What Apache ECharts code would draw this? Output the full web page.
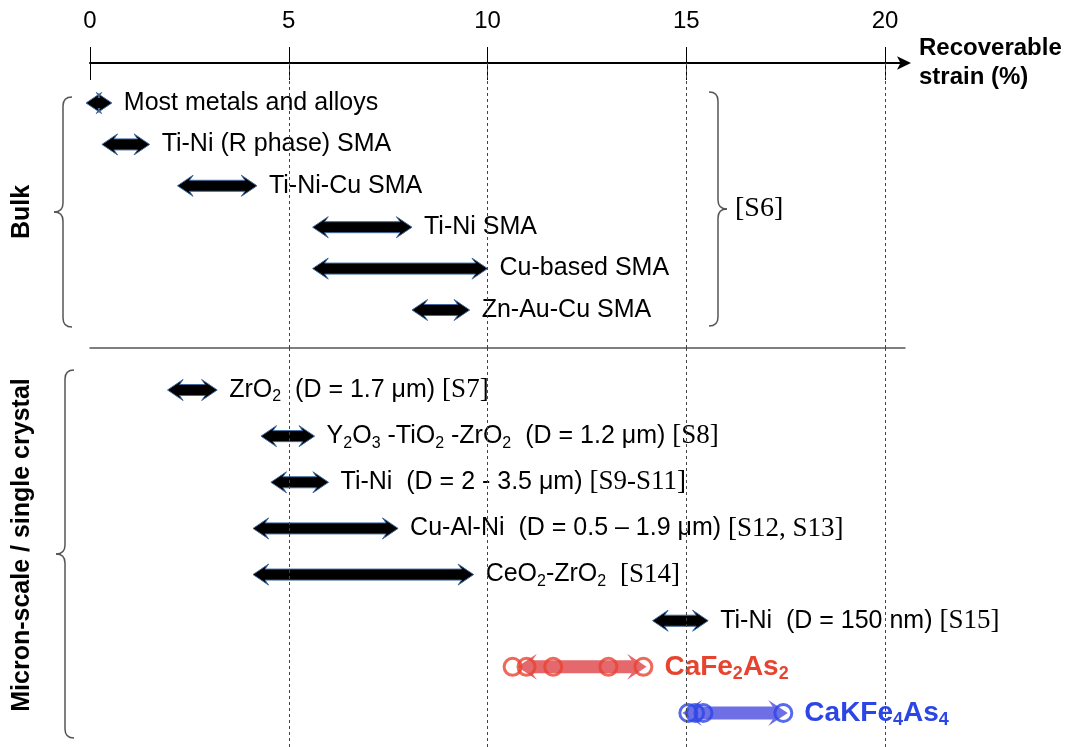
<!DOCTYPE html>
<html>
<head>
<meta charset="utf-8">
<title>Recoverable strain</title>
<script src="https://cdn.jsdelivr.net/npm/echarts@6/dist/echarts.min.js"></script>
<style>
  html, body { margin: 0; padding: 0; background: #ffffff; }
  #chart { width: 1081px; height: 747px; }
</style>
</head>
<body>
<div id="chart"></div>
<script>
// Strain axis ticks (%)
const tickValues = [0, 5, 10, 15, 20];

// Bulk materials: recoverable strain range (%)
const bulkLabels = [
  'Most metals and alloys',
  'Ti-Ni (R phase) SMA',
  'Ti-Ni-Cu SMA',
  'Ti-Ni SMA',
  'Cu-based SMA',
  'Zn-Au-Cu SMA'
];
const bulkMin = [-0.1, 0.3, 2.2, 5.6, 5.6, 8.1];
const bulkMax = [0.55, 1.5, 4.2, 8.1, 10.0, 9.55];

// Micron-scale / single crystal materials
const microLabels = [
  'ZrO{sub|2}  (D = 1.7 μm) {ref|[S7]}',
  'Y{sub|2}O{sub|3} -TiO{sub|2} -ZrO{sub|2}  (D = 1.2 μm) {ref|[S8]}',
  'Ti-Ni  (D = 2 - 3.5 μm) {ref|[S9-S11]}',
  'Cu-Al-Ni  (D = 0.5 – 1.9 μm) {ref|[S12, S13]}',
  'CeO{sub|2}-ZrO{sub|2}  {ref|[S14]}',
  'Ti-Ni  (D = 150 nm) {ref|[S15]}'
];
const microMin = [1.95, 4.3, 4.55, 4.1, 4.1, 14.15];
const microMax = [3.2, 5.65, 6.0, 7.75, 9.65, 15.55];

// Iron-arsenide crystals: range arrow and individual measurements
const caFe2As2Label = '{c|CaFe}{cs|2}{c|As}{cs|2}';
const caFe2As2Range = [10.75, 14.0];
const caFe2As2Points = [10.63, 10.98, 11.65, 13.04, 13.92];

const caKFe4As4Label = '{c|CaKFe}{cs|4}{c|As}{cs|4}';
const caKFe4As4Range = [14.9, 17.55];
const caKFe4As4Points = [15.05, 15.22, 15.43, 17.44];

const SANS = '"Liberation Sans", Arial, Helvetica, sans-serif';
const SERIF = '"Liberation Serif", "Times New Roman", Times, serif';

const RED = '#e8432f';
const BLUE = '#2c46e6';

// Double-headed arrow outline between two pixel x positions
function arrowPoints(x1, x2, y, t, h, L) {
  const s = L * 0.3;
  return [
    [x1, y], [x1 + L + s, y - h], [x1 + L, y - t], [x2 - L, y - t], [x2 - L - s, y - h],
    [x2, y], [x2 - L - s, y + h], [x2 - L, y + t], [x1 + L, y + t], [x1 + L + s, y + h]
  ];
}

const labelRich = {
  sub: { fontSize: 16, lineHeight: 12, verticalAlign: 'bottom', fontFamily: SANS, fill: '#000' },
  ref: { fontSize: 27, lineHeight: 30, fontFamily: SERIF, fill: '#000' }
};

function blackArrowRender(labels) {
  return function (params, api) {
    const a = api.coord([api.value(0), api.value(2)]);
    const b = api.coord([api.value(1), api.value(2)]);
    const y = a[1];
    return {
      type: 'group',
      children: [
        {
          type: 'polygon',
          shape: { points: arrowPoints(a[0], b[0], y, 5.5, 10.5, 12) },
          style: { fill: '#000', stroke: '#3f6aa0', lineWidth: 1 }
        },
        {
          type: 'text',
          style: {
            x: b[0] + 12, y: y,
            text: labels[params.dataIndex],
            fill: '#000',
            fontSize: 25, fontFamily: SANS,
            lineHeight: 30,
            align: 'left', verticalAlign: 'middle',
            rich: labelRich
          }
        }
      ]
    };
  };
}

function colorArrowRender(label, points, fillColor, textColor) {
  return function (params, api) {
    const a = api.coord([api.value(0), api.value(2)]);
    const b = api.coord([api.value(1), api.value(2)]);
    const last = api.coord([Math.max.apply(null, points), api.value(2)]);
    const y = a[1];
    return {
      type: 'group',
      children: [
        {
          type: 'polygon',
          shape: { points: arrowPoints(a[0], b[0], y, 6.5, 13, 15) },
          style: { fill: fillColor }
        },
        {
          type: 'text',
          style: {
            x: Math.max(b[0], last[0] + 10) + 11, y: y,
            text: label,
            fill: textColor,
            fontSize: 28, fontWeight: 'bold', fontFamily: SANS,
            lineHeight: 32,
            align: 'left', verticalAlign: 'middle',
            rich: {
              c: { fontSize: 28, fontWeight: 'bold', fontFamily: SANS, lineHeight: 32, fill: textColor },
              cs: { fontSize: 18, fontWeight: 'bold', fontFamily: SANS, lineHeight: 14, verticalAlign: 'bottom', fill: textColor }
            }
          }
        }
      ]
    };
  };
}

// Curly brace made of quadratic curves; dir = -1 points left, +1 points right
function brace(x0, y1, y2, dir, r) {
  const ym = (y1 + y2) / 2;
  const style = { stroke: '#555', lineWidth: 1.5, fill: null };
  const curve = (xa, ya, cx, cy, xb, yb) => ({
    type: 'bezierCurve', shape: { x1: xa, y1: ya, cpx1: cx, cpy1: cy, x2: xb, y2: yb }, style
  });
  const line = (xa, ya, xb, yb) => ({ type: 'line', shape: { x1: xa, y1: ya, x2: xb, y2: yb }, style });
  return {
    type: 'group',
    silent: true,
    children: [
      curve(x0 - dir * r, y1, x0, y1, x0, y1 + r),
      line(x0, y1 + r, x0, ym - r),
      curve(x0, ym - r, x0, ym, x0 + dir * r, ym),
      curve(x0 + dir * r, ym, x0, ym, x0, ym + r),
      line(x0, ym + r, x0, y2 - r),
      curve(x0, y2 - r, x0, y2, x0 - dir * r, y2)
    ]
  };
}

const bulkData = bulkLabels.map((_, i) => [bulkMin[i], bulkMax[i], i]);
const microData = microLabels.map((_, i) => [microMin[i], microMax[i], i]);
const rowFe2 = microLabels.length;
const rowK = microLabels.length + 1;

const dashedLines = {
  silent: true,
  symbol: 'none',
  label: { show: false },
  lineStyle: { color: '#444', type: [3, 3], width: 1 },
  data: tickValues.filter(v => v > 0).map(v => ({ xAxis: v }))
};

const chart = echarts.init(document.getElementById('chart'));

chart.setOption({
  animation: false,
  backgroundColor: '#ffffff',
  grid: [
    { left: 90, width: 815, top: 63, height: 285 },
    { left: 90, width: 815, top: 348, height: 399 }
  ],
  xAxis: [
    {
      gridIndex: 0, type: 'value', position: 'top', min: 0, max: 20.5, interval: 5,
      name: 'Recoverable\nstrain (%)',
      nameLocation: 'end', nameGap: 14,
      nameTextStyle: { fontSize: 24, fontWeight: 'bold', fontFamily: SANS, color: '#000', lineHeight: 29, align: 'left', verticalAlign: 'middle', padding: [2, 0, 0, 0] },
      axisLine: { show: true, onZero: false, lineStyle: { color: '#000', width: 2 }, symbol: ['none', 'arrow'], symbolSize: [10, 14], symbolOffset: [0, 6] },
      axisTick: { show: true, inside: false, length: 16, lineStyle: { color: '#000', width: 1 }, customValues: tickValues },
      axisLabel: { show: true, margin: 30, fontSize: 24, fontFamily: SANS, color: '#000', customValues: tickValues },
      splitLine: { show: false }
    },
    {
      gridIndex: 0, type: 'value', position: 'top', min: 0, max: 20.5, interval: 5,
      axisLine: { show: false, onZero: false },
      axisTick: { show: true, inside: true, length: 17, lineStyle: { color: '#000', width: 1 }, customValues: tickValues },
      axisLabel: { show: false },
      splitLine: { show: false }
    },
    {
      gridIndex: 1, type: 'value', position: 'top', min: 0, max: 20.5, interval: 5,
      axisLine: { show: true, onZero: false, lineStyle: { color: '#555', width: 1.5 } },
      axisTick: { show: false },
      axisLabel: { show: false },
      splitLine: { show: false }
    }
  ],
  yAxis: [
    { gridIndex: 0, type: 'value', inverse: true, min: -0.966, max: 5.918, show: false },
    { gridIndex: 1, type: 'value', inverse: true, min: -0.91, max: 7.737, show: false }
  ],
  series: [
    { type: 'line', xAxisIndex: 0, yAxisIndex: 0, data: [], markLine: dashedLines },
    { type: 'line', xAxisIndex: 2, yAxisIndex: 1, data: [], markLine: dashedLines },
    {
      type: 'custom', xAxisIndex: 0, yAxisIndex: 0,
      renderItem: blackArrowRender(bulkLabels),
      data: bulkData, encode: { x: [0, 1], y: 2 }, clip: false
    },
    {
      type: 'custom', xAxisIndex: 2, yAxisIndex: 1,
      renderItem: blackArrowRender(microLabels),
      data: microData, encode: { x: [0, 1], y: 2 }, clip: false
    },
    {
      type: 'custom', xAxisIndex: 2, yAxisIndex: 1,
      renderItem: colorArrowRender(caFe2As2Label, caFe2As2Points, 'rgba(222, 62, 68, 0.78)', RED),
      data: [[caFe2As2Range[0], caFe2As2Range[1], rowFe2]], encode: { x: [0, 1], y: 2 }, clip: false
    },
    {
      type: 'custom', xAxisIndex: 2, yAxisIndex: 1,
      renderItem: colorArrowRender(caKFe4As4Label, caKFe4As4Points, 'rgba(70, 70, 222, 0.78)', BLUE),
      data: [[caKFe4As4Range[0], caKFe4As4Range[1], rowK]], encode: { x: [0, 1], y: 2 }, clip: false
    },
    {
      type: 'scatter', xAxisIndex: 2, yAxisIndex: 1,
      symbol: 'circle', symbolSize: 17,
      itemStyle: { color: 'rgba(255,255,255,0)', borderColor: RED, borderWidth: 3 },
      data: caFe2As2Points.map(v => [v, rowFe2])
    },
    {
      type: 'scatter', xAxisIndex: 2, yAxisIndex: 1,
      symbol: 'circle', symbolSize: 17,
      itemStyle: { color: 'rgba(255,255,255,0)', borderColor: BLUE, borderWidth: 3 },
      data: caKFe4As4Points.map(v => [v, rowK])
    }
  ],
  graphic: [
    brace(63, 97, 327, -1, 9),
    brace(65, 370, 738, -1, 9),
    brace(718, 92, 326, 1, 9),
    {
      type: 'text', x: 22, y: 212, rotation: Math.PI / 2, silent: true,
      style: { text: 'Bulk', fill: '#000', font: 'bold 25px ' + SANS, textAlign: 'center', textVerticalAlign: 'middle', align: 'center', verticalAlign: 'middle' }
    },
    {
      type: 'text', x: 22, y: 545, rotation: Math.PI / 2, silent: true,
      style: { text: 'Micron-scale / single crystal', fill: '#000', font: 'bold 25px ' + SANS, textAlign: 'center', textVerticalAlign: 'middle', align: 'center', verticalAlign: 'middle' }
    },
    {
      type: 'text', x: 735, y: 209, silent: true,
      style: { text: '[S6]', fill: '#000', font: '28px ' + SERIF, textAlign: 'left', textVerticalAlign: 'middle', align: 'left', verticalAlign: 'middle' }
    }
  ]
});
</script>
</body>
</html>
